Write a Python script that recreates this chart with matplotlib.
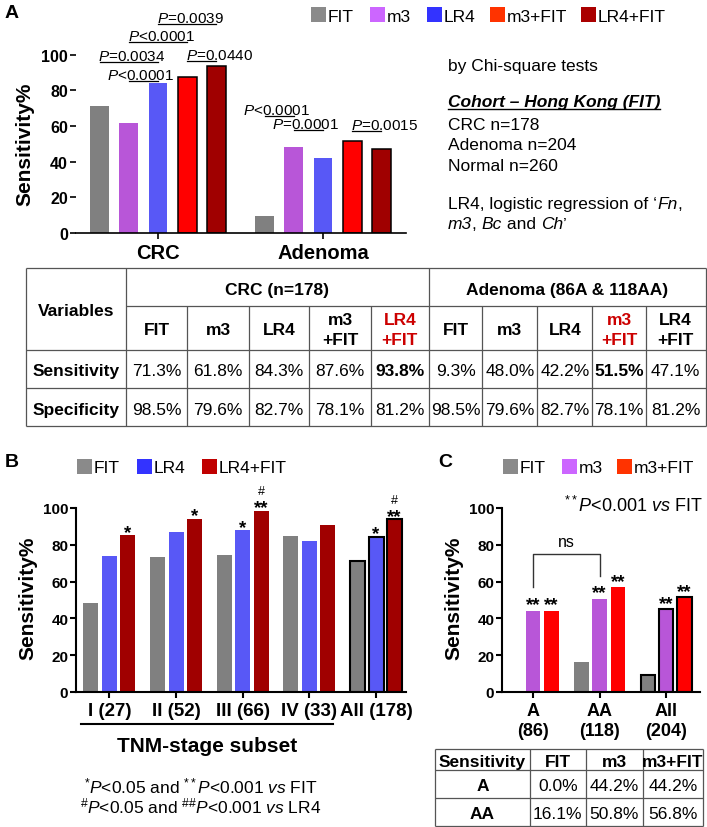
import matplotlib
matplotlib.use('Agg')
import matplotlib.pyplot as plt
from matplotlib.patches import Rectangle
import numpy as np

plt.rcParams['font.family'] = ['Liberation Sans', 'DejaVu Sans']
plt.rcParams['mathtext.fontset'] = 'custom'
plt.rcParams['mathtext.rm'] = 'Liberation Sans'
plt.rcParams['mathtext.it'] = 'Liberation Sans:italic'
plt.rcParams['mathtext.bf'] = 'Liberation Sans:bold'

# ---------------- data ----------------
a_groups = ['CRC', 'Adenoma']
a_series = ['FIT', 'm3', 'LR4', 'm3+FIT', 'LR4+FIT']
a_crc = [71.3, 61.8, 84.3, 87.6, 93.8]
a_adenoma = [9.3, 48.0, 42.2, 51.5, 47.1]
a_spec = [98.5, 79.6, 82.7, 78.1, 81.2]
# (group, series i, series j, p-value label)
a_pvals = [(0, 1, 2, '$P$<0.0001'), (0, 0, 2, '$P$=0.0034'), (0, 1, 3, '$P$<0.0001'),
           (0, 2, 4, '$P$=0.0039'), (0, 3, 4, '$P$=0.0440'),
           (1, 0, 1, '$P$<0.0001'), (1, 1, 2, '$P$=0.0001'), (1, 3, 4, '$P$=0.0015')]

b_stages = ['I (27)', 'II (52)', 'III (66)', 'IV (33)', 'All (178)']
b_series = ['FIT', 'LR4', 'LR4+FIT']
b_fit = [48.1, 73.1, 74.2, 84.8, 71.3]
b_lr4 = [74.1, 87.0, 87.9, 81.8, 84.3]
b_lr4fit = [85.2, 94.2, 98.5, 90.9, 93.8]
b_marks = [(0, 2, '*'), (1, 2, '*'), (2, 1, '*'), (2, 2, '**'), (4, 1, '*'), (4, 2, '**')]
b_marks_lr4 = [(2, 2, '#'), (4, 2, '#')]

c_groups = ['A\n(86)', 'AA\n(118)', 'All\n(204)']
c_series = ['FIT', 'm3', 'm3+FIT']
c_fit = [0.0, 16.1, 9.3]
c_m3 = [44.2, 50.8, 45.0]
c_m3fit = [44.2, 56.8, 51.5]
c_marks = [(0, 1, '**'), (0, 2, '**'), (1, 1, '**'), (1, 2, '**'), (2, 1, '**'), (2, 2, '**')]
c_table_rows = ['A', 'AA']

# ---------------- styles ----------------
bar_col = {'FIT': '#808080', 'm3': '#b856d8', 'LR4': '#5858f6', 'm3+FIT': '#ff0000', 'LR4+FIT': '#a00000'}
leg_col = {'FIT': '#8a8a8a', 'm3': '#cc66ff', 'LR4': '#3333ff', 'm3+FIT': '#ff3300', 'LR4+FIT': '#aa0000'}
leg_col_b = {'FIT': '#8a8a8a', 'LR4': '#3333ff', 'LR4+FIT': '#c00000'}

W, H = 707, 828
fig = plt.figure(figsize=(W / 100, H / 100), dpi=100)


def add_ax(l, t, r, b):
    return fig.add_axes([l / W, 1 - b / H, (r - l) / W, (b - t) / H])


ov = fig.add_axes([0, 0, 1, 1])
ov.set_xlim(0, W)
ov.set_ylim(H, 0)
ov.axis('off')
ov.set_zorder(10)

PX = 100 / 72.0


def ctext(x, y, s, size=12, weight='normal', color='black', ha='center', style='normal'):
    # y is visual center of capitals
    return ov.text(x, y + 0.716 * size * PX / 2, s, fontsize=size, fontweight=weight, color=color,
                   ha=ha, va='baseline', fontstyle=style)


def style_axis(ax, labsize=11, spine_lw=1.5, left=True):
    for s in ['top', 'right']:
        ax.spines[s].set_visible(False)
    ax.spines['left'].set_visible(left)
    ax.spines['left'].set_linewidth(spine_lw)
    ax.spines['bottom'].set_linewidth(spine_lw)
    ax.tick_params(axis='both', direction='out', length=4, width=spine_lw, color='black')
    ax.tick_params(axis='y', labelsize=labsize, pad=1.5)
    for t in ax.get_yticklabels():
        t.set_fontweight('bold')
    ax.set_facecolor('none')


# ---------------- Panel A ----------------
axA = add_ax(75.5, 55.7, 405.5, 234)
xa = np.arange(len(a_groups))
A_step, A_w = 0.1764, 0.115
for i, name in enumerate(a_series):
    ec = 'black' if '+' in name else 'none'
    axA.bar(xa + (i - 2) * A_step, [a_crc[i], a_adenoma[i]], width=A_w, color=bar_col[name],
            edgecolor=ec, linewidth=1.1, zorder=2)
axA.set_xlim(-0.5, 1.5)
axA.set_ylim(0, 100)
axA.set_yticks(range(0, 101, 20))
axA.set_xticks(xa, a_groups)
style_axis(axA, labsize=11.5, spine_lw=1.2, left=False)
axA.tick_params(axis='x', labelsize=14.5, pad=3)
for t in axA.get_xticklabels():
    t.set_fontweight('bold')

a_p_heights = [85.2, 95.9, 107.1, 117.2, 96.5, 65.6, 57.8, 57.2]
a_p_modes = ['c', 'l', 'l', 'l', 'l', 'c', 'c', 'l']
for (g, i, j, lab), h, mode in zip(a_pvals, a_p_heights, a_p_modes):
    x1 = g + (i - 2) * A_step
    x2 = g + (j - 2) * A_step
    axA.plot([x1, x2], [h, h], color='black', lw=0.9, clip_on=False)
    if mode == 'c':
        axA.annotate(lab, xy=((x1 + x2) / 2, h), xytext=(-2, 1.6), textcoords='offset points',
                     ha='center', va='baseline', fontsize=11, annotation_clip=False)
    else:
        axA.annotate(lab, xy=(x1, h), xytext=(-1, 1.6), textcoords='offset points',
                     ha='left', va='baseline', fontsize=11, annotation_clip=False)

ov.text(25, 144, 'Sensitivity%', rotation=90, ha='center', va='center', fontsize=15, fontweight='bold')

# legend A
for x, name in zip([311, 370, 427, 490, 581], a_series):
    ov.add_patch(Rectangle((x, 8), 15, 15, facecolor=leg_col[name], edgecolor='none'))
    ov.text(x + 17, 22, name, fontsize=12.5, ha='left', va='baseline')

ov.text(5, 18, 'A', fontsize=14, fontweight='bold', ha='left', va='baseline')

# right text block
ov.text(448, 71, 'by Chi-square tests', fontsize=12.5, ha='left', va='baseline')
coh = ov.text(448, 107.5, 'Cohort – Hong Kong (FIT)', fontsize=12.5, fontweight='bold', fontstyle='italic',
              ha='left', va='baseline')
ov.text(448, 130, 'CRC n=178', fontsize=12.5, ha='left', va='baseline')
ov.text(448, 150.5, 'Adenoma n=204', fontsize=12.5, ha='left', va='baseline')
ov.text(448, 171, 'Normal n=260', fontsize=12.5, ha='left', va='baseline')


def chain(x, y, pieces, size=12.5):
    prev = None
    for s, st in pieces:
        if prev is None:
            prev = ov.text(x, y, s, fontsize=size, fontstyle=st, ha='left', va='baseline')
        else:
            prev = ov.annotate(s, xy=(1, 0), xycoords=prev, fontsize=size, fontstyle=st,
                               ha='left', va='bottom')
    return prev


chain(448, 209.3, [('LR4, logistic regression of ‘', 'normal'), ('Fn', 'italic'), (',', 'normal')])
chain(448, 229.5, [('m3', 'italic'), (', ', 'normal'), ('Bc', 'italic'), (' and ', 'normal'),
                   ('Ch', 'italic'), ('’', 'normal')])

# ---------------- Table A ----------------
tl = dict(color='#555555', lw=0.9, solid_capstyle='butt')
xL, xV, xMid, xR = 25.7, 125.7, 429.0, 705.7
yT, yH, yS, yP, yB = 269.3, 307.3, 350.7, 389.3, 427.3
col_x = [xV, 187.3, 249.0, 309.3, 370.7, xMid, 482.3, 537.3, 592.3, 645.7, xR]
for y in [yT, yS, yP, yB]:
    ov.plot([xL, xR], [y, y], **tl)
ov.plot([xV, xR], [yH, yH], **tl)
for x in [xL, xV, xMid, xR]:
    ov.plot([x, x], [yT, yB], **tl)
for x in col_x[1:5] + col_x[6:10]:
    ov.plot([x, x], [yH, yB], **tl)

TS = 12.5
ctext((xL + xV) / 2, (yT + yS) / 2, 'Variables', size=TS, weight='bold')
ctext((xV + xMid) / 2, (yT + yH) / 2, 'CRC (n=178)', size=TS, weight='bold')
ctext((xMid + xR) / 2, (yT + yH) / 2, 'Adenoma (86A & 118AA)', size=TS, weight='bold')
ctext((xL + xV) / 2, (yS + yP) / 2, 'Sensitivity', size=TS, weight='bold')
ctext((xL + xV) / 2, (yP + yB) / 2, 'Specificity', size=TS, weight='bold')

head = [s.replace('+', '\n+') if '+' in s else s for s in a_series] * 2
sens = a_crc + a_adenoma
spec = a_spec + a_spec
best = [int(np.argmax(a_crc)), 5 + int(np.argmax(a_adenoma))]
for k in range(10):
    cx = (col_x[k] + col_x[k + 1]) / 2
    red = k in best
    ov.text(cx, (yH + yS) / 2 + 1.5, head[k], fontsize=TS, fontweight='bold', ha='center', va='center',
            color='#cc0000' if red else 'black', linespacing=1.35)
    ctext(cx, (yS + yP) / 2, f'{sens[k]:.1f}%', size=TS, weight='bold' if red else 'normal')
    ctext(cx, (yP + yB) / 2, f'{spec[k]:.1f}%', size=TS)

# ---------------- Panel B ----------------
axB = add_ax(76, 509, 406, 693)
xb = np.arange(len(b_stages))
B_step, B_w = 0.277, 0.225
b_vals = [b_fit, b_lr4, b_lr4fit]
for i, name in enumerate(b_series):
    ecs = ['none'] * (len(b_stages) - 1) + ['black']
    axB.bar(xb + (i - 1) * B_step, b_vals[i], width=B_w, color=bar_col[name], edgecolor=ecs,
            linewidth=1.5, zorder=2)
axB.set_xlim(-0.5, 4.45)
axB.set_ylim(0, 100)
axB.set_yticks(range(0, 101, 20))
axB.set_xticks(xb, b_stages)
style_axis(axB)
axB.tick_params(axis='x', labelsize=13.5, pad=3)
for t in axB.get_xticklabels():
    t.set_fontweight('bold')
for g, i, lab in b_marks:
    axB.annotate(lab, xy=(g + (i - 1) * B_step, b_vals[i][g]), xytext=(0, -1), textcoords='offset points',
                 ha='center', va='baseline', fontsize=13.5, fontweight='bold', annotation_clip=False)
for g, i, lab in b_marks_lr4:
    axB.annotate(lab, xy=(g + (i - 1) * B_step, b_vals[i][g]), xytext=(0, 12), textcoords='offset points',
                 ha='center', va='baseline', fontsize=9, annotation_clip=False)

ov.text(28, 598, 'Sensitivity%', rotation=90, ha='center', va='center', fontsize=15, fontweight='bold')
ov.text(5, 467, 'B', fontsize=14, fontweight='bold', ha='left', va='baseline')
for x, name in zip([77, 137, 202], b_series):
    ov.add_patch(Rectangle((x, 460), 15, 15, facecolor=leg_col_b[name], edgecolor='none'))
    ov.text(x + 17, 473.5, name, fontsize=12.5, ha='left', va='baseline')
ov.plot([81, 333], [725, 725], color='black', lw=1.5)
ctext(207, 745, 'TNM-stage subset', size=15, weight='bold')
ov.text(201, 793, r'$^{*}P$<0.05 and $^{**}P$<0.001 $vs$ FIT', fontsize=12.5, ha='center', va='baseline')
ov.text(201, 813, r'$^{\#}P$<0.05 and $^{\#\#}P$<0.001 $vs$ LR4', fontsize=12.5, ha='center', va='baseline')

# ---------------- Panel C ----------------
axC = add_ax(502, 509, 700, 693)
xc = np.arange(len(c_groups))
C_step, C_w = 0.275, 0.218
c_vals = [c_fit, c_m3, c_m3fit]
for i, name in enumerate(c_series):
    ecs = ['none'] * (len(c_groups) - 1) + ['black']
    axC.bar(xc + (i - 1) * C_step, c_vals[i], width=C_w, color=bar_col[name], edgecolor=ecs,
            linewidth=1.5, zorder=2)
axC.set_xlim(-0.47, 2.51)
axC.set_ylim(0, 100)
axC.set_yticks(range(0, 101, 20))
axC.set_xticks(xc, c_groups)
style_axis(axC)
axC.tick_params(axis='x', labelsize=13, pad=3)
for t in axC.get_xticklabels():
    t.set_fontweight('bold')
    t.set_linespacing(1.25)
for g, i, lab in c_marks:
    axC.annotate(lab, xy=(g + (i - 1) * C_step, c_vals[i][g]), xytext=(0, 1), textcoords='offset points',
                 ha='center', va='baseline', fontsize=13.5, fontweight='bold', annotation_clip=False)
# ns bracket between A m3 and AA m3
xa1, xa2 = 0, 1
axC.plot([xa1, xa1, xa2, xa2], [57.1, 75.0, 75.0, 63.0], color='#333333', lw=1.0, clip_on=False)
axC.text((xa1 + xa2) / 2, 77.5, 'ns', ha='center', va='bottom', fontsize=11.5)

ov.text(438, 467, 'C', fontsize=14, fontweight='bold', ha='left', va='baseline')
ov.text(454, 598, 'Sensitivity%', rotation=90, ha='center', va='center', fontsize=15, fontweight='bold')
for x, name in zip([503, 562, 617], c_series):
    ov.add_patch(Rectangle((x, 460), 15, 15, facecolor=leg_col[name], edgecolor='none'))
    ov.text(x + 17, 473.5, name, fontsize=12.5, ha='left', va='baseline')
ov.text(703, 512, r'$^{**}P$<0.001 $vs$ FIT', fontsize=13, ha='right', va='baseline')

# table C
cxs = [435, 530, 585.7, 642.7, 703.3]
cys = [750, 771, 799, 827]
for y in cys:
    ov.plot([cxs[0], cxs[-1]], [y, y], **tl)
for x in cxs:
    ov.plot([x, x], [cys[0], cys[-1]], **tl)
c_head = ['Sensitivity'] + c_series
for k, s in enumerate(c_head):
    ctext((cxs[k] + cxs[k + 1]) / 2, (cys[0] + cys[1]) / 2, s, size=12.5, weight='bold')
for r, rname in enumerate(c_table_rows):
    yc = (cys[r + 1] + cys[r + 2]) / 2
    ctext((cxs[0] + cxs[1]) / 2, yc, rname, size=12.5, weight='bold')
    for k in range(3):
        ctext((cxs[k + 1] + cxs[k + 2]) / 2, yc, f'{c_vals[k][r]:.1f}%', size=12.5)

# underline for cohort title
fig.canvas.draw()
bb = coh.get_window_extent()
inv = ov.transData.inverted()
(x0, _), (x1, _) = inv.transform([(bb.x0, bb.y0), (bb.x1, bb.y0)])
ov.plot([x0, x1], [109.5, 109.5], color='black', lw=1.0)

fig.savefig('out.png', dpi=100)
